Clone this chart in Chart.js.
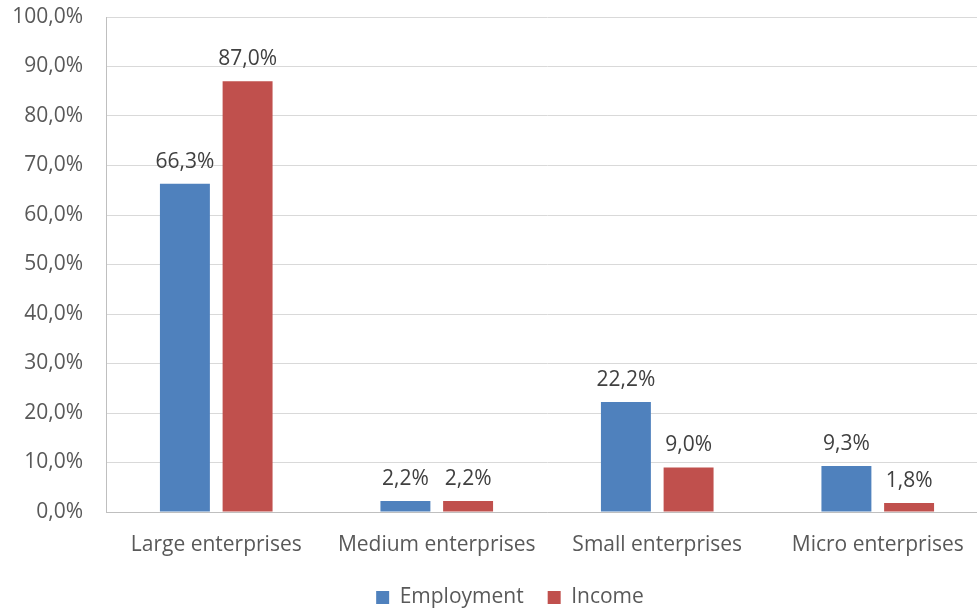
<!DOCTYPE html>
<html>
<head>
<meta charset="utf-8">
<script src="https://cdn.jsdelivr.net/npm/chart.js@4/dist/chart.umd.min.js"></script>
<style>
  html, body { margin: 0; padding: 0; background: #fff; overflow: hidden; }
  /* the reference picture is cropped at its right edge: the chart is a bit wider than the window */
  #wrap { width: 988px; height: 609px; position: relative; }
</style>
</head>
<body>
<div id="wrap"><canvas id="c"></canvas></div>
<script>
const categories = ["Large enterprises", "Medium enterprises", "Small enterprises", "Micro enterprises"];
const employment = [66.3, 2.2, 22.2, 9.3];
const income = [87.0, 2.2, 9.0, 1.8];
const seriesNames = ["Employment", "Income"];

const FONT = "'Open Sans', 'Liberation Sans', sans-serif";
const FS = 21;
const fmt = v => v.toFixed(1).replace('.', ',') + '%';

const valueLabels = {
  id: 'valueLabels',
  afterDatasetsDraw(chart) {
    const ctx = chart.ctx;
    ctx.save();
    ctx.font = FS + "px " + FONT;
    ctx.fillStyle = '#404040';
    ctx.textAlign = 'center';
    ctx.textBaseline = 'alphabetic';
    chart.data.datasets.forEach((ds, i) => {
      const meta = chart.getDatasetMeta(i);
      meta.data.forEach((el, j) => {
        ctx.fillText(fmt(ds.data[j]), el.x, el.y - 16);
      });
    });
    ctx.restore();
  }
};

// Excel places the legend slightly right of the centre
const legendShift = {
  id: 'legendShift',
  afterLayout(chart) {
    if (chart.legend) { chart.legend.left += 16; chart.legend.right += 16; }
  }
};

new Chart(document.getElementById('c'), {
  type: 'bar',
  data: {
    labels: categories,
    datasets: [
      { label: seriesNames[0], data: employment, backgroundColor: '#4F81BD' },
      { label: seriesNames[1], data: income, backgroundColor: '#C0504D' }
    ]
  },
  options: {
    responsive: true,
    maintainAspectRatio: false,
    animation: false,
    devicePixelRatio: 1,
    layout: { padding: { top: 17, right: 0, left: 0, bottom: -9 } },
    datasets: { bar: { categoryPercentage: 0.5685, barPercentage: 0.797 } },
    plugins: {
      legend: {
        position: 'bottom',
        labels: {
          boxWidth: 13, boxHeight: 13, padding: 24,
          color: '#595959',
          font: { family: FONT, size: FS }
        }
      },
      tooltip: { enabled: false }
    },
    scales: {
      x: {
        grid: { display: false, drawTicks: false },
        border: { display: true, color: '#BFBFBF', width: 1 },
        ticks: { color: '#595959', font: { family: FONT, size: FS }, padding: 20, maxRotation: 0 },
        afterFit(s) { s.height = 51; }
      },
      y: {
        min: 0, max: 100,
        grid: { color: '#D9D9D9', drawTicks: true, tickLength: 23, tickColor: 'rgba(0,0,0,0)' },
        border: { display: true, color: '#BFBFBF', width: 1 },
        ticks: {
          stepSize: 10, padding: 0, color: '#595959',
          font: { family: FONT, size: FS },
          callback: v => fmt(v)
        },
        afterFit(s) { s.width = 106; }
      }
    }
  },
  plugins: [valueLabels, legendShift]
});
</script>
</body>
</html>
